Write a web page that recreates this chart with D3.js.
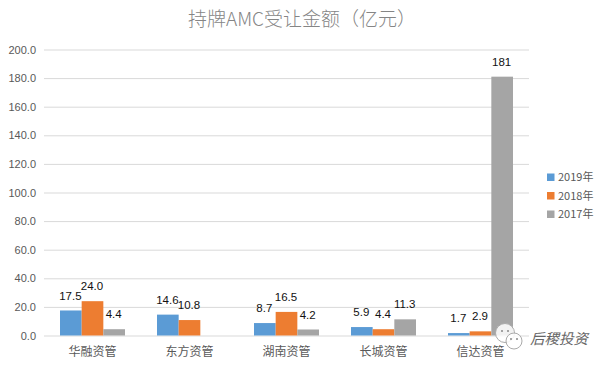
<!DOCTYPE html>
<html><head><meta charset="utf-8">
<script src="https://cdn.jsdelivr.net/npm/d3@7"></script>
<style>html,body{margin:0;padding:0;background:#fff}svg{display:block}
text{font-family:"Noto Sans CJK SC","Liberation Sans",sans-serif}</style></head>
<body><svg id="c" width="608" height="366"></svg>
<script>
const categories = ["华融资管","东方资管","湖南资管","长城资管","信达资管"];
const seriesNames = ["2019年","2018年","2017年"];
const values2019 = [17.5,14.6,8.7,5.9,1.7];
const values2018 = [24.0,10.8,16.5,4.4,2.9];
const values2017 = [4.4,null,4.2,11.3,181];
const labels2017 = ["4.4","","4.2","11.3","181"];
const colors = ["#5b9bd5","#ed7d31","#a5a5a5"];
const yTicks = [0,20,40,60,80,100,120,140,160,180,200];
const title = "持牌AMC受让金额（亿元）";

const svg = d3.select("#c");
const x = d3.scaleBand().domain(categories).range([44,529]).paddingInner(0.33).paddingOuter(0.165);
const xs = d3.scaleBand().domain(seriesNames).range([0,x.bandwidth()]);
const y = d3.scaleLinear().domain([0,200]).range([335.5,49.5]);

svg.append("text").attr("x",302).attr("y",26).attr("text-anchor","middle")
  .attr("font-size",19).attr("fill","#858585").style("font-family",'"Noto Sans CJK SC"').style("font-weight",300).text(title);

const yAxis = d3.axisLeft(y).tickValues(yTicks).tickSize(-485).tickPadding(8).tickFormat(d3.format(".1f"));
const gy = svg.append("g").attr("transform","translate(44,0)").call(yAxis);
gy.select(".domain").remove();
gy.selectAll("line").attr("stroke","#d9d9d9").attr("stroke-width",1);
gy.selectAll("text").attr("font-size",11).attr("fill","#595959").style("font-family",'"Liberation Sans"');

const xAxis = d3.axisBottom(x).tickSize(0).tickPadding(8);
const gx = svg.append("g").attr("transform","translate(0,335.5)").call(xAxis);
gx.select(".domain").remove();
gx.selectAll("text").attr("font-size",12).attr("fill","#595959").attr("dy","1.0em");

const all = [values2019,values2018,values2017];
all.forEach((vals,s)=>{
  const name = seriesNames[s];
  const g = svg.append("g");
  g.selectAll("rect").data(vals.map((v,i)=>({v,c:categories[i]})).filter(d=>d.v!=null)).join("rect")
    .attr("x",d=>x(d.c)+xs(name)).attr("width",xs.bandwidth())
    .attr("y",d=>y(d.v)).attr("height",d=>y(0)-y(d.v)).attr("fill",colors[s]);
  g.selectAll("text").data(vals.map((v,i)=>({v,c:categories[i],t:s===2?labels2017[i]:v.toFixed(1)})).filter(d=>d.v!=null)).join("text")
    .attr("x",d=>x(d.c)+xs(name)+xs.bandwidth()/2-0.5).attr("y",d=>y(d.v)-15).attr("dy","0.35em")
    .attr("text-anchor","middle").attr("font-size",11.5).attr("fill","#111")
    .style("font-family",'"Liberation Sans"').text(d=>d.t);
});

const legendY = d3.scalePoint().domain(seriesNames).range([177.5,214.5]);
const lg = svg.append("g");
seriesNames.forEach((n,i)=>{
  lg.append("rect").attr("x",547).attr("y",legendY(n)-4).attr("width",7.5).attr("height",7.5).attr("fill",colors[i]);
  lg.append("text").attr("x",558).attr("y",legendY(n)).attr("dy","0.35em").attr("font-size",11).attr("fill","#595959").text(n);
});

// watermark
const wm = svg.append("g");
[[505,333,9.5],[514,341,8]].forEach(c=>wm.append("circle").attr("cx",c[0]).attr("cy",c[1]).attr("r",c[2])
  .attr("fill","#fff").attr("fill-opacity",0.85).attr("stroke","#aaa").attr("stroke-width",1));
[[502,331],[508,331],[511,339],[517,339]].forEach(c=>wm.append("circle").attr("cx",c[0]).attr("cy",c[1]).attr("r",1).attr("fill","#888"));
wm.append("text").attr("x",530).attr("y",344).attr("font-size",14.5).attr("fill","#666").style("font-style","italic").text("后稷投资");
</script></body></html>
